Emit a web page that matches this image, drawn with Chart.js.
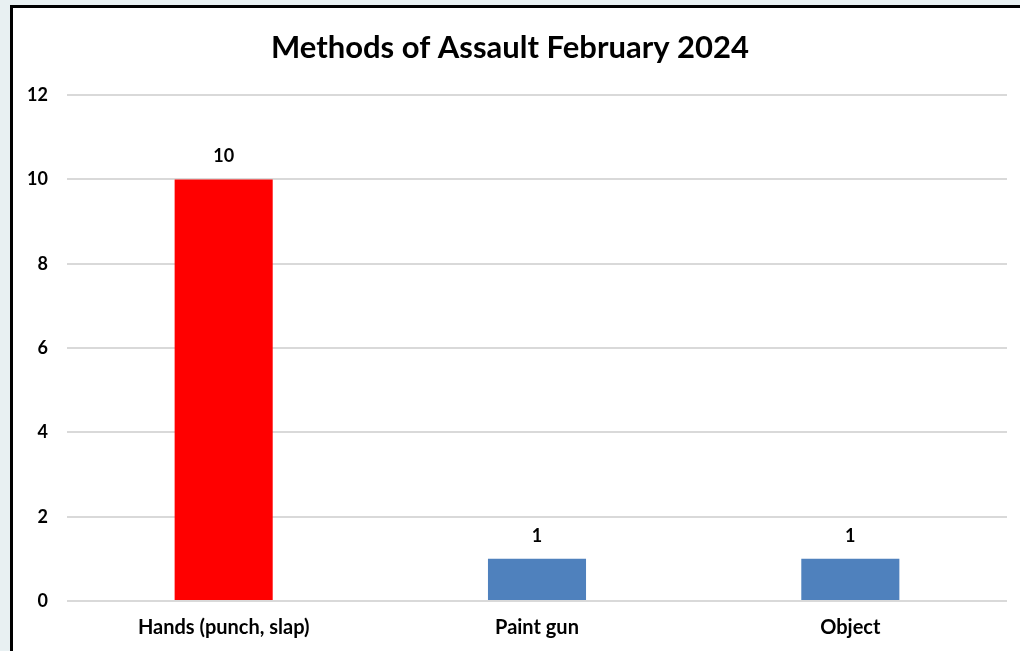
<!DOCTYPE html>
<html>
<head>
<meta charset="utf-8">
<script src="https://cdn.jsdelivr.net/npm/chart.js@4"></script>
<style>
  html, body { margin: 0; padding: 0; background: #e8f0f2; overflow: hidden; }
  #frame {
    position: absolute; left: 10px; top: 5px; width: 1020px; height: 660px;
    background: #fff; border-left: 3px solid #000; border-top: 3px solid #000;
  }
  #chart { position: absolute; left: 0; top: 0; }
</style>
</head>
<body>
<div id="frame"><canvas id="chart" width="1007" height="643"></canvas></div>
<script>
const categories = ['Hands (punch, slap)', 'Paint gun', 'Object'];
const counts = [10, 1, 1];
const barColors = ['#ff0000', '#4f81bd', '#4f81bd'];
const yTicks = [0, 2, 4, 6, 8, 10, 12];

const fontFamily = 'Lato, "Open Sans", sans-serif';

// value labels drawn above each bar
const valueLabels = {
    id: 'valueLabels',
    afterDatasetsDraw(chart) {
        const ctx = chart.ctx;
        const meta = chart.getDatasetMeta(0);
        ctx.save();
        ctx.font = `bold 18px ${fontFamily}`;
        ctx.fillStyle = '#000';
        ctx.textAlign = 'center';
        ctx.textBaseline = 'middle';
        meta.data.forEach((bar, i) => {
            ctx.fillText(String(counts[i]), bar.x, bar.y - 23);
        });
        ctx.restore();
    }
};

new Chart(document.getElementById('chart'), {
    type: 'bar',
    data: {
        labels: categories,
        datasets: [{
            data: counts,
            backgroundColor: barColors,
            borderWidth: 0,
            categoryPercentage: 1,
            barPercentage: 0.313
        }]
    },
    options: {
        responsive: false,
        animation: false,
        devicePixelRatio: 1,
        layout: { padding: { left: 0, right: 13, bottom: 0, top: 0 } },
        plugins: {
            legend: { display: false },
            tooltip: { enabled: false },
            title: {
                display: true,
                text: 'Methods of Assault February 2024',
                color: '#000',
                font: { family: fontFamily, size: 31, weight: 'bold' },
                padding: { top: 21, bottom: 29 }
            }
        },
        scales: {
            x: {
                grid: { display: false, drawTicks: false },
                border: { display: false },
                ticks: {
                    color: '#000',
                    font: { family: fontFamily, size: 20, weight: 'bold' },
                    padding: 15
                },
                afterFit(scale) { scale.height = 50; }
            },
            y: {
                min: 0,
                max: 12,
                afterBuildTicks(scale) { scale.ticks = yTicks.map(v => ({ value: v })); },
                grid: { color: '#d9d9d9', lineWidth: 2, drawTicks: false },
                border: { display: false },
                ticks: {
                    color: '#000',
                    font: { family: fontFamily, size: 18, weight: 'bold' },
                    padding: 19
                },
                afterFit(scale) { scale.width = 54; }
            }
        }
    },
    plugins: [valueLabels]
});
</script>
</body>
</html>
